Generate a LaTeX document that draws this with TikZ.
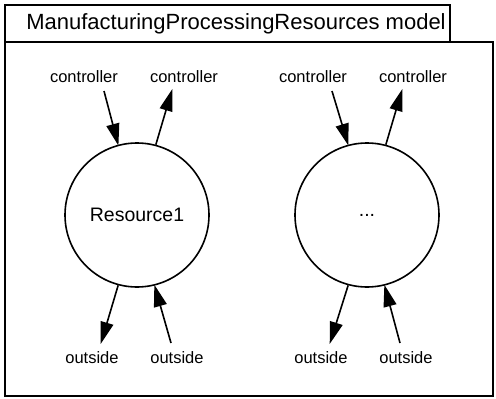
\documentclass[tikz,border=0pt]{standalone}
\usepackage{fontspec}
\setmainfont{Liberation Sans}
\usetikzlibrary{arrows.meta,positioning}

\begin{document}
\begin{tikzpicture}[
    x=1pt, y=-1pt,
    frame/.style={draw, line width=1.8pt},
    resource/.style={circle, draw, line width=1.6pt, minimum size=144pt, inner sep=0pt, font=\fontsize{19.5}{22}\selectfont},
    port/.style={font=\fontsize{16.5}{19}\selectfont, inner sep=1pt},
    arrow/.style={-{Triangle[length=22pt,width=13pt]}, line width=1.6pt, shorten >=-1pt}
  ]
    \useasboundingbox (0,0) rectangle (496,399);
    % model frame with its title tab
    \draw[frame] (5,42) rectangle (493,396);
    \draw[frame] (5,5) rectangle (450,42);
    \node[font=\fontsize{22}{26}\selectfont] (title) at (236,24) {ManufacturingProcessingResources model};

    \node[resource] (r1) at (137,215) {Resource1};
    \node[resource] (r2) at (367,215) {...};

    % port ends
    \coordinate (c1in) at (104,91);
    \coordinate (c1out) at (172,90);
    \coordinate (o1out) at (101,343);
    \coordinate (o1in) at (171,343);
    \coordinate (c2in) at (332,91);
    \coordinate (c2out) at (402,90);
    \coordinate (o2out) at (330,343);
    \coordinate (o2in) at (400,343);

    \node[port] (lc1in) at (84,77) {controller};
    \node[port] (lc1out) at (184,77) {controller};
    \node[port] (lo1out) at (92,358) {outside};
    \node[port] (lo1in) at (177,358) {outside};
    \node[port] (lc2in) at (313,77) {controller};
    \node[port] (lc2out) at (413,77) {controller};
    \node[port] (lo2out) at (321,358) {outside};
    \node[port] (lo2in) at (406,358) {outside};

    \draw[arrow] (c1in) -- (r1.105);
    \draw[arrow] (r1.75) -- (c1out);
    \draw[arrow] (r1.255) -- (o1out);
    \draw[arrow] (o1in) -- (r1.284);
    \draw[arrow] (c2in) -- (r2.105);
    \draw[arrow] (r2.75) -- (c2out);
    \draw[arrow] (r2.255) -- (o2out);
    \draw[arrow] (o2in) -- (r2.284);
  \end{tikzpicture}
\end{document}
